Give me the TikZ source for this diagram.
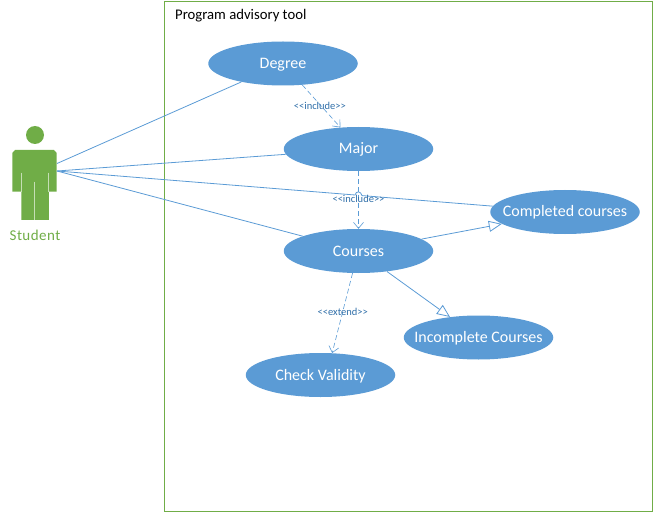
\documentclass[tikz,border=0pt]{standalone}
\usepackage{fontspec}
\setmainfont{Carlito}
\usetikzlibrary{shapes.geometric,arrows.meta,calc}
\definecolor{ublue}{HTML}{5B9BD5}
\definecolor{ugreen}{HTML}{70AD47}
\definecolor{ulabel}{HTML}{2F6EA8}
\tikzset{
  usecase/.style={ellipse,fill=ublue,draw=none,minimum width=149.5pt,minimum height=44pt,inner xsep=-14pt,inner ysep=0pt,text=white,text height=14pt,text depth=4pt,font=\fontsize{16}{18}\selectfont},
  assoc/.style={draw=ublue,line width=0.8pt},
  gener/.style={assoc,-{Triangle[open,fill=white,length=13pt,width=11pt]}},
  dep/.style={assoc,line width=0.6pt,dash pattern=on 5pt off 3pt,-{Straight Barb[length=6pt,width=10pt,line width=0.6pt]}},
  stereo/.style={text=ulabel,font=\fontsize{10.5}{12}\selectfont,inner sep=0pt},
}
\begin{document}
\begin{tikzpicture}[x=1pt,y=-1pt]
\useasboundingbox (0,0) rectangle (653,513);
\node[draw=ugreen,line width=0.8pt,minimum width=488pt,minimum height=510pt,inner sep=0pt] (system) at (408,256) {};
\node[anchor=west,inner sep=0pt,font=\fontsize{14.7}{16}\selectfont] (title) at (175,16) {Program advisory tool};
% actor
\fill[ugreen] (35,135) circle (9);
\fill[ugreen] (15,150) -- (54,150) -- (56.7,153) -- (56.7,191.7) -- (48.8,191.7) -- (48.8,220) -- (21.3,220) -- (21.3,191.7) -- (12.3,191.7) -- (12.3,153) -- cycle;
\draw[white,opacity=.6,line width=1pt] (21,172.7) -- (21,191.7) (48.5,172.7) -- (48.5,191.7) (34.7,181.7) -- (34.7,220);
\node[text=ugreen,inner sep=0pt,font=\fontsize{15}{17}\selectfont] (student) at (35,235) {\addfontfeature{LetterSpace=3}Student};
\coordinate (actorA) at (57,163.5);
\coordinate (actorB) at (57,171);
% use cases
\node[usecase] (degree) at (283,63.5) {Degree};
\node[usecase] (major) at (358.5,149) {Major};
\node[usecase] (courses) at (358.5,251) {Courses};
\node[usecase] (completed) at (565,212) {Completed courses};
\node[usecase] (incomplete) at (478.5,337.5) {Incomplete Courses};
\node[usecase] (validity) at (320.5,375) {Check Validity};
% associations
\draw[assoc] (actorA) -- (degree);
\draw[assoc] (actorB) -- (major);
\draw[assoc] (actorB) -- (courses);
\coordinate (hopA) at (355,195);
\coordinate (hopB) at (362,195.6);
\draw[assoc] (actorB) -- (hopA) .. controls (356,190.5) and (361,191) .. (hopB) -- (completed);
% generalisations
\draw[gener] (courses) -- (completed);
\draw[gener] (courses) -- (incomplete);
% dependencies
\draw[dep] (degree.-48) -- node[stereo,pos=.5,xshift=-1.5pt] (inc1) {<{}<include>{}>} (major.130);
\draw[dep] (major) -- node[stereo,pos=.48] (inc2) {<{}<include>{}>} (courses);
\draw[dep] (courses.255) -- node[stereo,pos=.48] (ext) {<{}<extend>{}>} (validity.62);
\end{tikzpicture}
\end{document}
